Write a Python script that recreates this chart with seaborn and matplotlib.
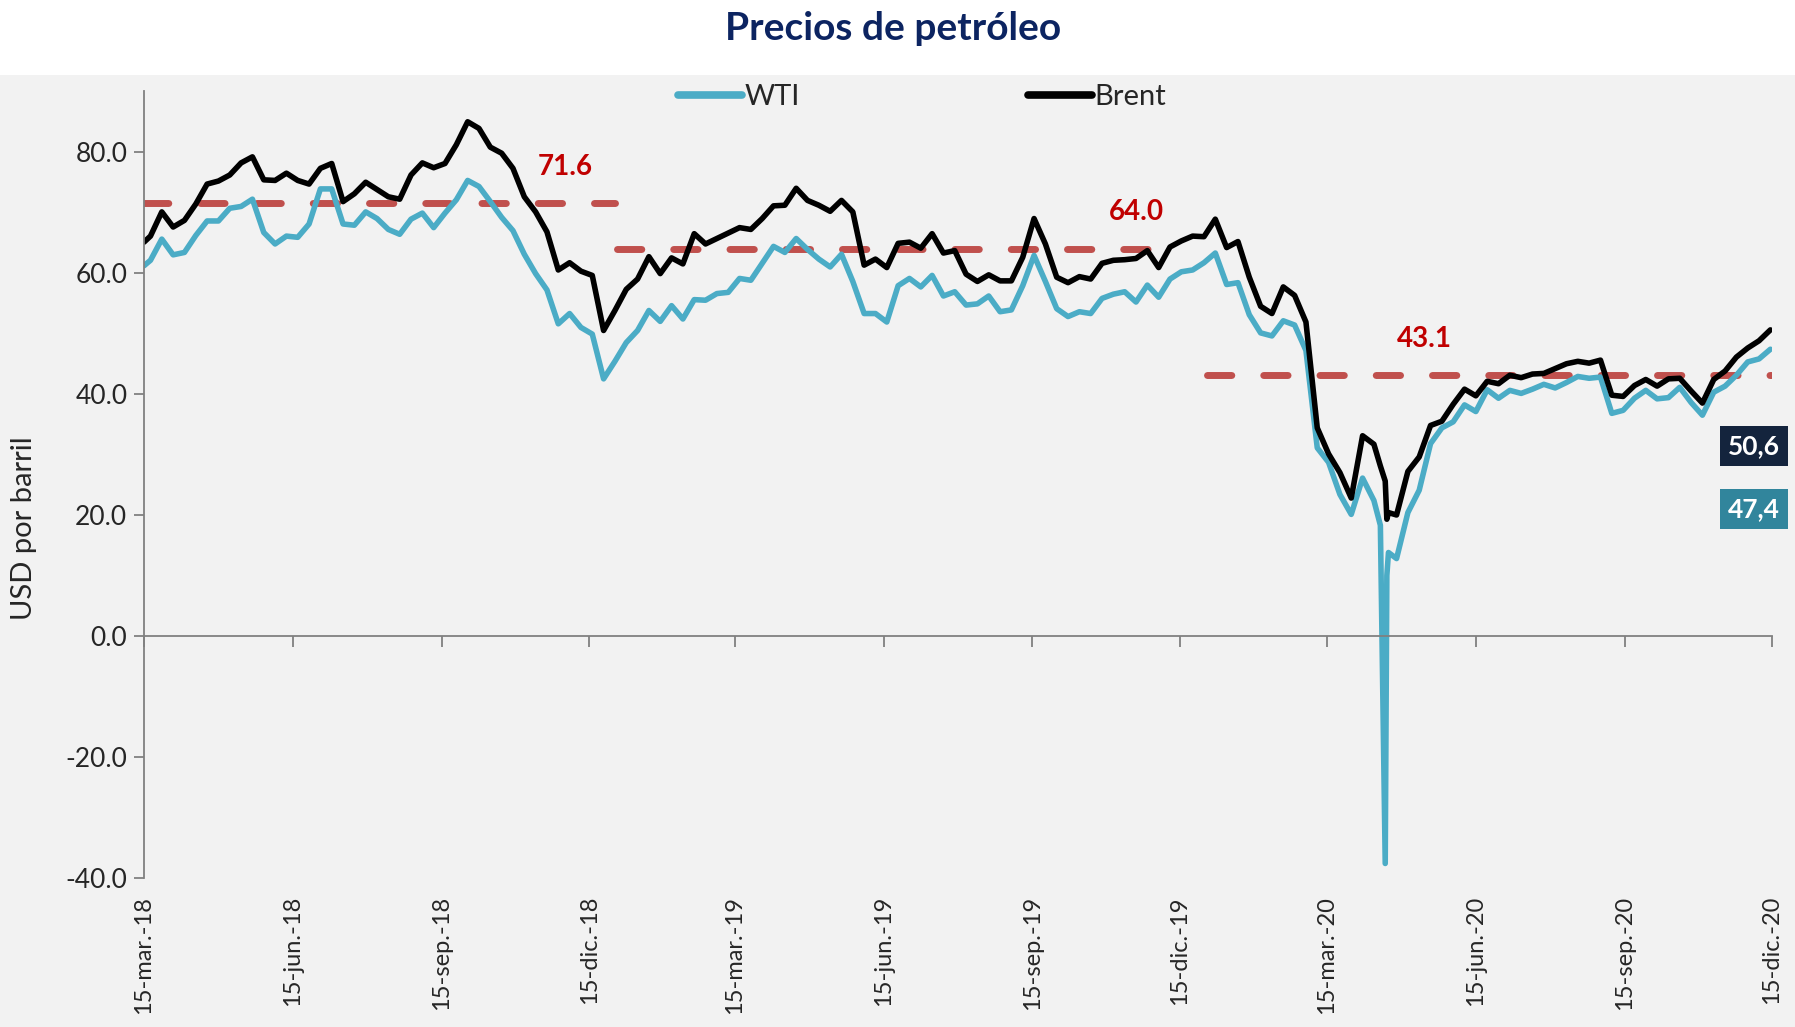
import pandas as pd
import numpy as np
import matplotlib
matplotlib.use("Agg")
import matplotlib.pyplot as plt
import matplotlib.dates as mdates
import matplotlib.transforms as mtransforms
from matplotlib.patches import Rectangle
from matplotlib.ticker import FuncFormatter
import seaborn as sns

### Precios de petroleo: WTI vs Brent ###

# weekly closes (Mondays), USD por barril
brent_2018 = [66.1, 70.1, 67.6, 68.7, 71.4, 74.7, 75.2, 76.2, 78.2, 79.2,
              75.4, 75.3, 76.5, 75.3, 74.7, 77.3, 78.1, 71.8, 73.1, 75.0,
              73.8, 72.6, 72.2, 76.2, 78.2, 77.4, 78.1, 81.2, 85.0, 83.9,
              80.8, 79.8, 77.3, 72.6, 70.1, 66.8, 60.5, 61.7, 60.3, 59.6,
              50.5, 53.8]
wti_2018 = [62.1, 65.6, 63.0, 63.4, 66.2, 68.6, 68.6, 70.7, 71.0, 72.2,
            66.7, 64.8, 66.1, 65.9, 68.1, 73.9, 73.9, 68.1, 67.9, 70.1,
            69.0, 67.2, 66.4, 68.9, 69.9, 67.5, 69.9, 72.1, 75.3, 74.3,
            71.8, 69.2, 67.0, 63.1, 59.9, 57.2, 51.6, 53.3, 51.0, 49.9,
            42.5, 45.4]

brent_2019 = [57.3, 59.0, 62.7, 59.9, 62.5, 61.5, 66.5, 64.8, 65.7, 66.6,
              67.5, 67.2, 69.0, 71.1, 71.2, 74.0, 72.0, 71.2, 70.2, 72.0,
              70.1, 61.3, 62.3, 60.9, 64.9, 65.1, 64.1, 66.5, 63.3, 63.7,
              59.8, 58.6, 59.7, 58.7, 58.7, 62.6, 69.0, 64.8, 59.3, 58.4,
              59.4, 59.0, 61.6, 62.1, 62.2, 62.4, 63.7, 60.9, 64.3, 65.3,
              66.1, 66.0]
wti_2019 = [48.5, 50.5, 53.8, 52.0, 54.6, 52.4, 55.6, 55.5, 56.6, 56.8,
            59.1, 58.8, 61.6, 64.4, 63.4, 65.7, 63.9, 62.3, 61.0, 63.1,
            58.6, 53.3, 53.3, 51.9, 57.9, 59.1, 57.7, 59.6, 56.2, 56.9,
            54.7, 54.9, 56.2, 53.6, 53.9, 57.9, 62.9, 58.6, 54.1, 52.8,
            53.6, 53.3, 55.8, 56.5, 56.9, 55.2, 58.0, 56.0, 59.0, 60.2,
            60.5, 61.7]

brent_2020 = [68.9, 64.2, 65.2, 59.3, 54.5, 53.3, 57.7, 56.3, 51.9, 34.4,
              30.1, 27.0, 22.8, 33.1, 31.7, 25.6, 20.0, 27.2, 29.6, 34.8,
              35.5, 38.3, 40.8, 39.7, 42.1, 41.7, 43.1, 42.7, 43.3, 43.4,
              44.2, 45.0, 45.4, 45.1, 45.6, 39.8, 39.6, 41.4, 42.4, 41.3,
              42.5, 42.6, 40.5, 38.5, 42.4, 43.8, 46.1, 47.6, 48.8, 50.6]
wti_2020 = [63.3, 58.1, 58.4, 53.1, 50.1, 49.6, 52.1, 51.4, 47.2, 31.1,
            28.7, 23.4, 20.1, 26.1, 22.4, -37.6, 12.8, 20.4, 24.1, 31.8,
            34.4, 35.4, 38.2, 37.1, 40.7, 39.3, 40.6, 40.1, 40.8, 41.6,
            41.0, 41.9, 42.9, 42.6, 42.8, 36.8, 37.3, 39.3, 40.6, 39.2,
            39.4, 41.1, 38.6, 36.5, 40.3, 41.3, 43.1, 45.3, 45.8, 47.4]

# a few daily closes: first day of the chart and the WTI collapse
extra_dates = ["2018-03-15", "2020-04-17", "2020-04-21", "2020-04-22"]
extra_brent = [65.1, 28.1, 19.3, 20.4]
extra_wti = [61.2, 18.3, 10.0, 13.8]

# yearly averages (dashed lines)
avg_values = [71.6, 64.0, 43.1]
avg_labels = ["71.6", "64.0", "43.1"]
avg_start = ["2018-03-15", "2019-01-01", "2020-01-01"]
avg_end = ["2018-12-31", "2019-12-10", "2020-12-15"]
avg_label_dates = ["2018-11-30", "2019-11-18", "2020-05-14"]

# last values
last_labels = ["50,6", "47,4"]

tick_dates = ["2018-03-15", "2018-06-15", "2018-09-15", "2018-12-15",
              "2019-03-15", "2019-06-15", "2019-09-15", "2019-12-15",
              "2020-03-15", "2020-06-15", "2020-09-15", "2020-12-15"]
tick_labels = ["15-mar.-18", "15-jun.-18", "15-sep.-18", "15-dic.-18",
               "15-mar.-19", "15-jun.-19", "15-sep.-19", "15-dic.-19",
               "15-mar.-20", "15-jun.-20", "15-sep.-20", "15-dic.-20"]

# build the data frame
parts = []
for start, b, w in [("2018-03-19", brent_2018, wti_2018),
                    ("2019-01-07", brent_2019, wti_2019),
                    ("2020-01-06", brent_2020, wti_2020)]:
    fechas = pd.date_range(start, periods=len(b), freq="7D")
    parts.append(pd.DataFrame({"fecha": fechas, "Brent": b, "WTI": w}))
parts.append(pd.DataFrame({"fecha": pd.to_datetime(extra_dates),
                           "Brent": extra_brent, "WTI": extra_wti}))
precios = pd.concat(parts).sort_values("fecha").reset_index(drop=True)
precios_long = precios.melt(id_vars="fecha", var_name="serie", value_name="precio")

# colours
c_wti = "#4bacc6"
c_brent = "#000000"
c_avg = "#c0504d"
c_avg_text = "#c00000"
c_axis = "#808080"
c_bg = "#f2f2f2"

sns.set_theme(style="white")
plt.rcParams["font.family"] = ["Lato", "DejaVu Sans"]
plt.rcParams["axes.unicode_minus"] = False

fig = plt.figure(figsize=(17.95, 10.27), dpi=100, facecolor="white")
# grey panel under the title band
fig.patches.append(Rectangle((0, 0), 1, 1 - 75 / 1027, transform=fig.transFigure,
                             facecolor=c_bg, edgecolor="none", zorder=-10))
ax = fig.add_axes([144 / 1795, 1 - 878 / 1027, 1628 / 1795, 786.5 / 1027])
ax.set_facecolor("none")

# yearly averages behind the series
for v, s, e in zip(avg_values, avg_start, avg_end):
    ax.plot([pd.Timestamp(s), pd.Timestamp(e)], [v, v], color=c_avg, lw=5,
            dashes=(3.5, 4.6), dash_capstyle="round", zorder=1)

sns.lineplot(data=precios_long, x="fecha", y="precio", hue="serie",
             hue_order=["WTI", "Brent"], palette={"WTI": c_wti, "Brent": c_brent},
             linewidth=4, estimator=None, ax=ax, zorder=2)

for v, lab, d in zip(avg_values, avg_labels, avg_label_dates):
    ax.text(pd.Timestamp(d), v + 6.0, lab, color=c_avg_text, fontsize=20,
            fontweight="bold", ha="center", va="center")

# last value boxes
trans = mtransforms.blended_transform_factory(ax.transAxes, ax.transData)
ax.text(0.989, 31.4, last_labels[0], transform=trans, ha="center", va="center",
        color="white", fontsize=19, fontweight="bold", clip_on=False,
        bbox=dict(boxstyle="square,pad=0.3", facecolor="#14243d", edgecolor="none"))
ax.text(0.989, 21.0, last_labels[1], transform=trans, ha="center", va="center",
        color="white", fontsize=19, fontweight="bold", clip_on=False,
        bbox=dict(boxstyle="square,pad=0.3", facecolor="#31859c", edgecolor="none"))

# axes
ax.set_xlim(pd.Timestamp("2018-03-15"), pd.Timestamp("2020-12-15"))
ax.set_ylim(-40, 90)
ax.set_yticks([-40, -20, 0, 20, 40, 60, 80])
ax.yaxis.set_major_formatter(FuncFormatter(lambda v, pos: f"{v:.1f}"))
ax.set_xticks(pd.to_datetime(tick_dates))
ax.tick_params(axis="x", direction="out", length=8, width=1.3, color=c_axis,
               labelbottom=False, bottom=True)
ax.tick_params(axis="y", direction="out", length=7, width=1.3, color=c_axis,
               labelsize=19, pad=5, left=True)
for side in ["top", "right"]:
    ax.spines[side].set_visible(False)
ax.spines["left"].set_color(c_axis)
ax.spines["left"].set_linewidth(1.3)
ax.spines["bottom"].set_position(("data", 0))
ax.spines["bottom"].set_color(c_axis)
ax.spines["bottom"].set_linewidth(1.3)
ax.set_xlabel("")
ax.set_ylabel("USD por barril", fontsize=21)
ax.yaxis.set_label_coords(-0.066, 0.445)

# date labels at the very bottom
sec = ax.secondary_xaxis(0)
sec.set_xticks(mdates.date2num(pd.to_datetime(tick_dates)), labels=tick_labels)
sec.tick_params(length=0, pad=13, labelsize=17, rotation=90)
sec.spines["bottom"].set_visible(False)

# legend
handles, labels = ax.get_legend_handles_labels()
leg = ax.legend(handles, labels, loc="center", bbox_to_anchor=(0.478, 0.993), ncol=2,
                frameon=False, fontsize=21, handlelength=2.2, handletextpad=0.1,
                columnspacing=7.8)
for h in leg.get_lines():
    h.set_linewidth(5.5)

fig.text(0.4975, 1 - 29 / 1027, "Precios de petróleo", ha="center", va="center",
         fontsize=28, fontweight="bold", color="#0c2461")

fig.savefig("out.png", dpi=100, facecolor=fig.get_facecolor())
